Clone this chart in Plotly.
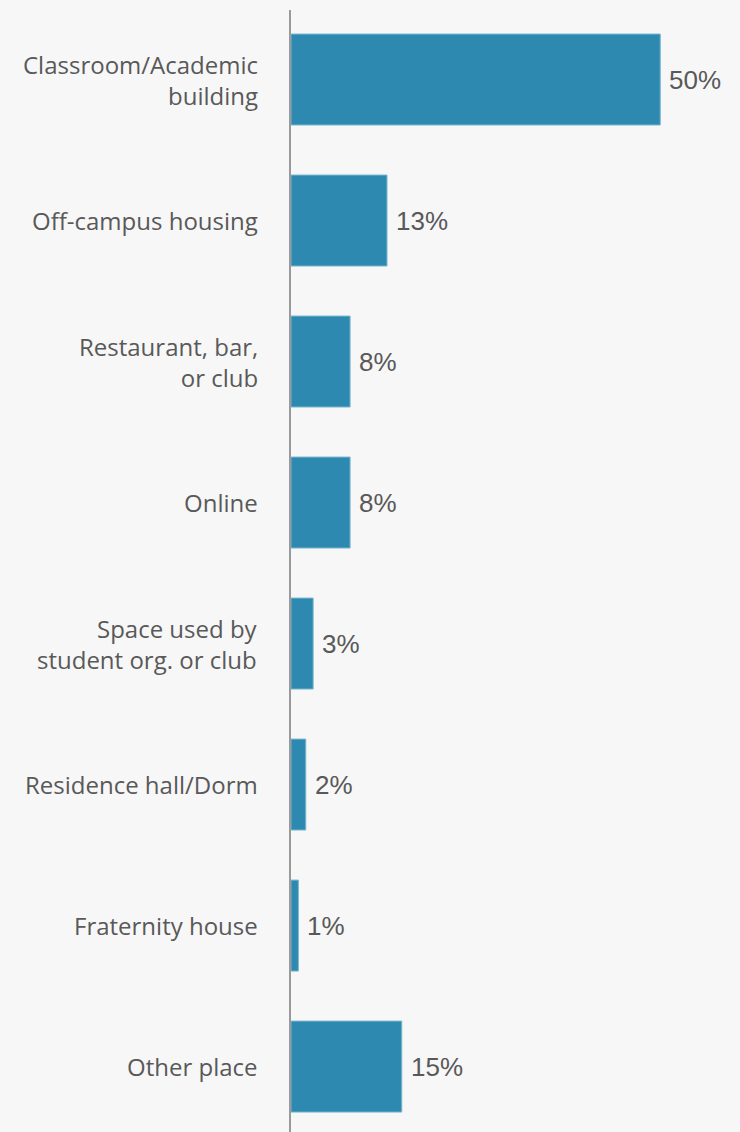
import plotly.graph_objects as go

# Where the incident took place, share of responses (%)
places = [
    "Classroom/Academic<br>building",
    "Off-campus housing",
    "Restaurant, bar,<br>or club",
    "Online",
    "Space used by<br>student org. or club",
    "Residence hall/Dorm",
    "Fraternity house",
    "Other place",
]
shares = [50, 13, 8, 8, 3, 2, 1, 15]
share_labels = [f"{v}%" for v in shares]

BAR = "#2d89b0"
EDGE = "#79b6d0"
TEXT = "#595959"
BG = "#f7f7f7"

fig = go.Figure()
fig.add_trace(go.Bar(
    x=shares,
    y=places,
    orientation="h",
    marker=dict(color=BAR, line=dict(color=EDGE, width=1)),
    hoverinfo="skip",
))

# value labels just past the end of each bar
for p, v, lab in zip(places, shares, share_labels):
    fig.add_annotation(
        x=v, y=p, text=lab, showarrow=False,
        xanchor="left", yanchor="middle", xshift=7,
        font=dict(family="Liberation Sans, Arial, sans-serif", size=26, color=TEXT),
    )

# category labels, right-aligned left of the axis
for p in places:
    fig.add_annotation(
        xref="paper", x=0, y=p, text=p, showarrow=False,
        xanchor="right", yanchor="middle", align="right", borderpad=0,
        xshift=-32,
        font=dict(family="Open Sans, sans-serif", size=24, color=TEXT),
    )

fig.update_layout(
    width=740, height=1132,
    margin=dict(l=291, r=0, t=10, b=0),
    paper_bgcolor=BG, plot_bgcolor=BG,
    bargap=0.355,
    showlegend=False,
    xaxis=dict(range=[0, 60.8], visible=False, fixedrange=True),
    yaxis=dict(
        categoryorder="array", categoryarray=places,
        range=[7.464, -0.493],
        showline=True, linecolor="#9a9a9a", linewidth=2,
        showgrid=False, zeroline=False, ticks="",
        showticklabels=False,
    ),
)

fig.write_html("out.html")
